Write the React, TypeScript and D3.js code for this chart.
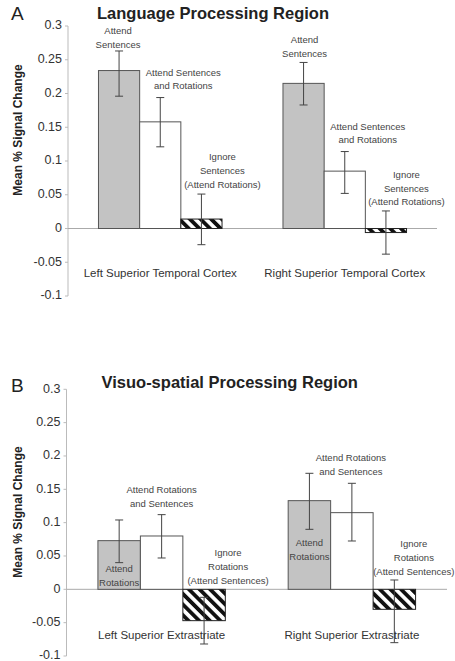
import React from "react";
import * as d3 from "d3";

// ---------- Data ----------
const categoriesA = ["Left Superior Temporal Cortex", "Right Superior Temporal Cortex"];
const categoriesB = ["Left Superior Extrastriate", "Right Superior Extrastriate"];
const seriesKeys = ["s0", "s1", "s2"];

// Panel A: Language Processing Region
const meanA = [
  [0.234, 0.158, 0.014],
  [0.215, 0.085, -0.006],
];
const hiA = [
  [0.263, 0.194, 0.051],
  [0.246, 0.114, 0.026],
];
const loA = [
  [0.196, 0.121, -0.024],
  [0.183, 0.052, -0.038],
];

// Panel B: Visuo-spatial Processing Region
const meanB = [
  [0.073, 0.08, -0.047],
  [0.133, 0.115, -0.03],
];
const hiB = [
  [0.104, 0.112, -0.012],
  [0.174, 0.159, 0.014],
];
const loB = [
  [0.04, 0.047, -0.082],
  [0.09, 0.0725, -0.08],
];

const yTicks = [-0.1, -0.05, 0, 0.05, 0.1, 0.15, 0.2, 0.25, 0.3];
const yTickLabels = ["-0.1", "-0.05", "0", "0.05", "0.1", "0.15", "0.2", "0.25", "0.3"];

// Annotation texts (group, series, lines, anchor value of first line)
const labelsA = [
  { g: 0, s: 0, lines: ["Attend", "Sentences"], v: 0.2926, dx: -1 },
  { g: 0, s: 1, lines: ["Attend Sentences", "and Rotations"], v: 0.2308, dx: 23 },
  { g: 0, s: 2, lines: ["Ignore", "Sentences", "(Attend Rotations)"], v: 0.1055, dx: 21 },
  { g: 1, s: 0, lines: ["Attend", "Sentences"], v: 0.2793, dx: 1 },
  { g: 1, s: 1, lines: ["Attend Sentences", "and Rotations"], v: 0.1508, dx: 23 },
  { g: 1, s: 2, lines: ["Ignore", "Sentences", "(Attend Rotations)"], v: 0.0793, dx: 20.5 },
];
const labelsB = [
  { g: 0, s: 0, lines: ["Attend", "Rotations"], v: 0.0304, dx: 0 },
  { g: 0, s: 1, lines: ["Attend Rotations", "and Sentences"], v: 0.149, dx: 0 },
  { g: 0, s: 2, lines: ["Ignore", "Rotations", "(Attend Sentences)"], v: 0.0549, dx: 24 },
  { g: 1, s: 0, lines: ["Attend", "Rotations"], v: 0.069, dx: 0 },
  { g: 1, s: 1, lines: ["Attend Rotations", "and Sentences"], v: 0.1974, dx: -1 },
  { g: 1, s: 2, lines: ["Ignore", "Rotations", "(Attend Sentences)"], v: 0.068, dx: 19.5 },
];

const FONT = "'Liberation Sans', Arial, sans-serif";
const FILLS = ["#c3c3c3", "#ffffff", "url(#hatch)"];

type PanelProps = {
  letter: string;
  title: string;
  titleX: number;
  titleY: number;
  letterY: number;
  categories: string[];
  mean: number[][];
  hi: number[][];
  lo: number[][];
  labels: { g: number; s: number; lines: string[]; v: number; dx: number }[];
  xRange: [number, number];
  yRange: [number, number];
  axisLabelY: number;
  catDy: number;
  lineH: number;
};

function Panel(p: PanelProps) {
  const y = d3.scaleLinear().domain([-0.1, 0.3]).range(p.yRange);
  const x0 = d3.scaleBand<string>().domain(p.categories).range(p.xRange).padding(0);
  const x1 = d3
    .scaleBand<string>()
    .domain(seriesKeys)
    .range([0, x0.bandwidth()])
    .paddingInner(0)
    .paddingOuter(0.74);
  const bw = x1.bandwidth();
  const axisX = p.xRange[0];
  const cap = 4;

  return (
    <g>
      <text x={11} y={p.letterY} fontFamily={FONT} fontSize={19} fill="#222" dominantBaseline="middle">
        {p.letter}
      </text>
      <text x={p.titleX} y={p.titleY} fontFamily={FONT} fontSize={16.5} fontWeight="bold" fill="#222" dominantBaseline="middle">
        {p.title}
      </text>
      <text
        transform={`translate(19,${p.axisLabelY}) rotate(-90)`}
        textAnchor="middle"
        dominantBaseline="middle"
        fontFamily={FONT}
        fontSize={12}
        fontWeight="bold"
        fill="#222"
      >
        Mean % Signal Change
      </text>
      {/* y axis */}
      <line x1={axisX} x2={axisX} y1={y(0.3)} y2={y(-0.1)} stroke="#bbb" strokeWidth={1} />
      {yTicks.map((t, i) => (
        <g key={i}>
          <line x1={axisX - 3} x2={axisX} y1={y(t)} y2={y(t)} stroke="#bbb" />
          <text
            x={axisX - 6}
            y={y(t)}
            textAnchor="end"
            dominantBaseline="middle"
            fontFamily={FONT}
            fontSize={12.5}
            fill="#333"
          >
            {yTickLabels[i]}
          </text>
        </g>
      ))}
      {/* zero line */}
      <line x1={axisX} x2={p.xRange[1]} y1={y(0)} y2={y(0)} stroke="#aaa" strokeWidth={1} />
      {/* bars */}
      {p.categories.map((c, gi) => (
        <g key={c}>
          {seriesKeys.map((s, si) => {
            const v = p.mean[gi][si];
            const bx = (x0(c) as number) + (x1(s) as number);
            return (
              <rect
                key={s}
                x={bx}
                y={y(Math.max(0, v))}
                width={bw}
                height={Math.abs(y(v) - y(0))}
                fill={FILLS[si]}
                stroke={si === 2 ? "#222" : "#555"}
                strokeWidth={1}
              />
            );
          })}
          {seriesKeys.map((s, si) => {
            const cx = (x0(c) as number) + (x1(s) as number) + bw / 2;
            const yh = y(p.hi[gi][si]);
            const yl = y(p.lo[gi][si]);
            return (
              <g key={"e" + s} stroke="#444" strokeWidth={1}>
                <line x1={cx} x2={cx} y1={yh} y2={yl} />
                <line x1={cx - cap} x2={cx + cap} y1={yh} y2={yh} />
                <line x1={cx - cap} x2={cx + cap} y1={yl} y2={yl} />
              </g>
            );
          })}
          <text
            x={(x0(c) as number) + x0.bandwidth() / 2}
            y={y(0) + p.catDy}
            textAnchor="middle"
            dominantBaseline="middle"
            fontFamily={FONT}
            fontSize={11.5}
            fill="#333"
          >
            {c}
          </text>
        </g>
      ))}
      {/* annotations */}
      {p.labels.map((l, i) => {
        const c = p.categories[l.g];
        const cx = (x0(c) as number) + (x1(seriesKeys[l.s]) as number) + bw / 2 + l.dx;
        return (
          <text key={i} fontFamily={FONT} fontSize={9.5} fill="#444" textAnchor="middle" dominantBaseline="middle">
            {l.lines.map((t, j) => (
              <tspan key={j} x={cx} y={y(l.v) + j * p.lineH}>
                {t}
              </tspan>
            ))}
          </text>
        );
      })}
    </g>
  );
}

export default function App() {
  return (
    <div style={{ position: "absolute", left: 0, top: 0 }}>
      <svg width={455} height={661} style={{ display: "block", background: "#fff" }}>
        <defs>
          <pattern id="hatch" patternUnits="userSpaceOnUse" width={7.5} height={7.5} patternTransform="rotate(-45)">
            <rect width={7.5} height={7.5} fill="#fff" />
            <rect width={3.8} height={7.5} fill="#111" />
          </pattern>
        </defs>
        <Panel
          letter="A"
          title="Language Processing Region"
          titleX={97}
          titleY={15}
          letterY={15}
          categories={categoriesA}
          mean={meanA}
          hi={hiA}
          lo={loA}
          labels={labelsA}
          xRange={[68, 437]}
          yRange={[296, 26]}
          axisLabelY={130}
          catDy={45.5}
          lineH={13.7}
        />
        <Panel
          letter="B"
          title="Visuo-spatial Processing Region"
          titleX={101.5}
          titleY={384}
          letterY={386.5}
          categories={categoriesB}
          mean={meanB}
          hi={hiB}
          lo={loB}
          labels={labelsB}
          xRange={[66.5, 447]}
          yRange={[656, 389.3]}
          axisLabelY={512}
          catDy={47}
          lineH={14}
        />
      </svg>
    </div>
  );
}
